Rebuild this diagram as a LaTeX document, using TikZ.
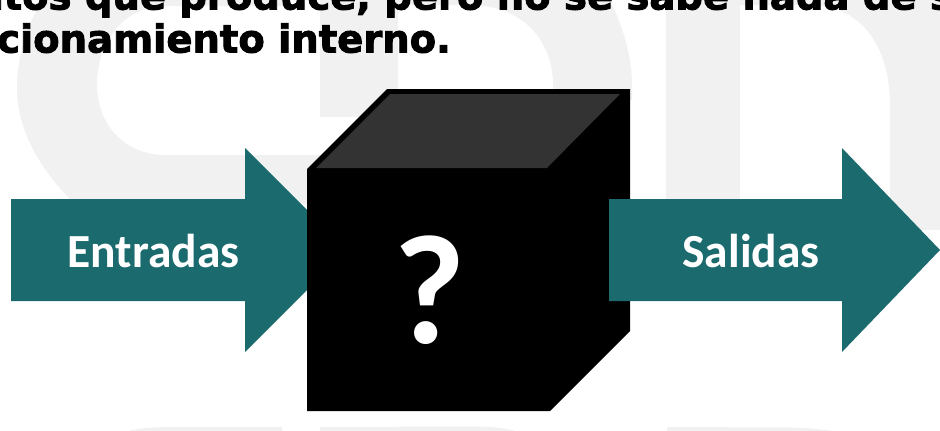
\documentclass[tikz,border=0pt]{standalone}
\usepackage{fontspec}
\setmainfont{Carlito}
\newfontfamily\headfont[BoldFeatures={FakeBold=2.4}]{DejaVu Sans}
\definecolor{teal1}{HTML}{1A6A6E}
\definecolor{wm}{HTML}{F1F1F1}
\definecolor{topface}{HTML}{333333}
\tikzset{
  wmark/.style={fill=wm,draw=none},
  arrowshape/.style={fill=teal1,draw=none},
  lbl/.style={text=white,font=\fontsize{47.5}{47.5}\selectfont\bfseries,inner sep=0pt},
  head/.style={text=black,font=\headfont\fontsize{38.5}{38.5}\selectfont\bfseries,inner sep=0pt,anchor=base west}
}
\begin{document}
\begin{tikzpicture}[x=1pt,y=-1pt]
\useasboundingbox (0,0) rectangle (940,431);
\clip (0,0) rectangle (940,431);
\fill[white] (0,0) rectangle (940,431);
% watermark
\fill[wmark] (42,0) .. controls (26,28) and (17,58) .. (17,88) .. controls (17,130) and (40,170) .. (75,204) -- (320,204) -- (320,155) -- (165,155) .. controls (125,155) and (97,125) .. (97,85) .. controls (97,40) and (125,6) .. (165,6) -- (283,6) -- (283,0) -- cycle;
\fill[wmark] (320,0) -- (398,0) -- (398,117) -- (320,117) -- cycle;
\fill[wmark] (398,0) -- (398,5) -- (470,5) .. controls (520,5) and (553,38) .. (553,85) -- (553,100) -- (632,100) -- (632,85) .. controls (632,55) and (622,25) .. (610,0) -- cycle;
\fill[wmark] (666,0) rectangle (740,204);
\fill[wmark] (740,0) -- (740,5) -- (810,5) .. controls (860,5) and (890,45) .. (890,105) -- (890,230) -- (940,230) -- (940,0) -- cycle;
\fill[wmark] (129,431) .. controls (145,427) and (160,427) .. (175,427) -- (282,427) -- (282,431) -- cycle;
\fill[wmark] (320,431) -- (320,427) -- (475,426.5) .. controls (495,427) and (505,428) .. (515,431) -- cycle;
\fill[wmark] (667,431) -- (667,427) -- (790,427.5) .. controls (805,428) and (820,429) .. (833,431) -- cycle;
% heading
\node[head] (h1) at (-50,9.5) {datos que produce, pero no se sabe nada de su};
\node[head] (h2) at (-3,52.5) {cionamiento interno.};
% left arrow
\fill[arrowshape] (11,199) -- (245,199) -- (245,148) -- (347,250) -- (245,352) -- (245,301) -- (11,301) -- cycle;
% cube
\fill[black] (307,169) -- (387,89) -- (630,89) -- (630,331) -- (550,411) -- (307,411) -- cycle;
\fill[topface] (316,168) -- (390,94) -- (620,94) -- (547,168) -- cycle;
% right arrow
\fill[arrowshape] (609,199) -- (842,199) -- (842,148) -- (940,250) -- (842,352) -- (842,301) -- (609,301) -- cycle;
% labels
\node[lbl] (ent) at (153.5,251) {Entradas};
\node[lbl] (sal) at (751,251) {Salidas};
\node[text=white,font=\fontsize{156}{156}\selectfont\bfseries,inner sep=0pt] (q) at (430,290) {?};
\end{tikzpicture}
\end{document}
